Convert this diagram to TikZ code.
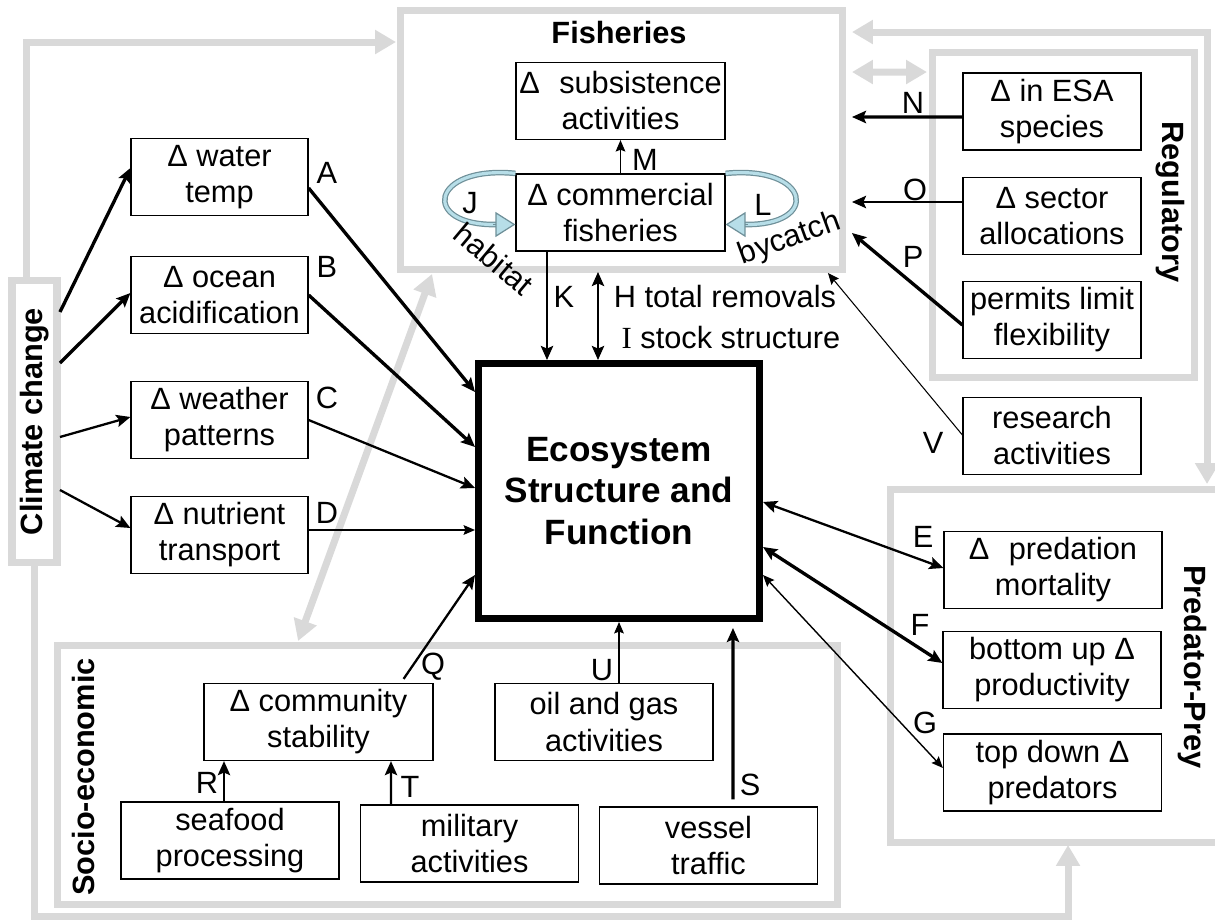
\documentclass[tikz,border=0pt]{standalone}
\usepackage{fontspec}
\setmainfont{Liberation Sans}
\newfontfamily\serifI{Liberation Serif}
\usepackage{graphicx}
\usetikzlibrary{arrows.meta,calc,positioning}
\definecolor{regiongray}{HTML}{D9D9D9}
\definecolor{loopblue}{HTML}{B7DEE8}
\definecolor{loopedge}{HTML}{6F9099}
\tikzset{
    >={Stealth[length=8pt,width=7pt,inset=1.5pt]},
    box/.style={
        rectangle,
        draw,
        line width=0.7pt,
        fill=white,
        align=center,
        inner sep=1pt,
        minimum width=4.36cm,
        minimum height=1.54cm
    },
    region/.style={rectangle, draw=regiongray, line width=4pt, inner sep=0pt, outer sep=0pt},
    grayarrow/.style={draw=regiongray, line width=4pt, >={Triangle[length=0.42cm,width=0.46cm]}, ->},
    thickarrow/.style={draw, line width=1.9pt, ->},
    midarrow/.style={draw, line width=1.3pt, ->},
    thinarrow/.style={draw, line width=0.8pt, >={Stealth[length=6.5pt,width=5.5pt,inset=1pt]}, ->},
    font={\fontsize{17.5pt}{20.5pt}\selectfont},
}

\begin{document}
\begin{tikzpicture}[x=0.02cm, y=-0.02cm]
\tikzstyle{heading} = [inner sep=0pt, font={\fontsize{17.5pt}{20.5pt}\selectfont\bfseries}]
\tikzstyle{eco} = [rectangle, draw, line width=4pt, fill=white, align=center, minimum width=5.62cm, minimum height=5.1cm, font={\fontsize{20pt}{23.5pt}\selectfont\bfseries}]
\tikzstyle{leftbox} = [box, minimum width=3.54cm]
\tikzstyle{loopband} = [draw=loopedge, double=loopblue, line width=0.7pt, double distance=1.8pt]
\tikzstyle{loophead} = [draw=loopedge, line width=0.7pt, -{Triangle[length=0.4cm,width=0.5cm,fill=loopblue]}]

\useasboundingbox (0,0) rectangle (1215,922);

% Regions
\node[region, minimum width=0.9cm, minimum height=5.66cm] (climate) at (34.5,421.5) {\rotatebox{90}{\bfseries Climate change}};
\node[region, minimum width=8.86cm, minimum height=5.2cm] (fisheries) at (621.5,140) {};
\node[region, minimum width=5.26cm, minimum height=6.52cm] (regulatory) at (1063.5,215) {};
\node[region, minimum width=6.8cm, minimum height=7.08cm] (predator) at (1060,666) {};
\node[region, minimum width=15.62cm, minimum height=5.2cm] (socio) at (447.5,775) {};

% Region headings
\node[heading] (fishtitle) at (619,33) {Fisheries};
\node[heading, rotate=-90] (regtitle) at (1170,202) {Regulatory};
\node[heading, rotate=-90] (predtitle) at (1192,667) {Predator-Prey};
\node[heading, rotate=90] (sociotitle) at (84,777) {Socio-economic};

% Links between regions (in gray)
\draw[grayarrow, shorten >=0.08cm] ($(climate.north)+(-8,0)$) |- ($(fisheries.north west)+(0,32)$);
\draw[grayarrow, shorten >=0.04cm] (climate.south) -- ++(0,354) -| ($(predator.south west)+(178,0)$);
\draw[grayarrow, <->, shorten >=0.1cm] ($(fisheries.north east)+(9,22)$) -| ($(predator.north west)+(317,0)$);
\draw[grayarrow, <->] ($(fisheries.north east)+(9,62)$) -- ($(regulatory.north west)+(-5,20)$);
\draw[grayarrow, <->] ($(socio.north west)+(241,-4)$) -- ($(fisheries.south west)+(32,4)$);

% Climate drivers
\node[leftbox] (water) at (219.5,177) {Δ water\\temp};
\node[leftbox] (ocean) at (219.5,295) {Δ ocean\\acidification};
\node[leftbox] (weather) at (219.5,420) {Δ weather\\patterns};
\node[leftbox] (nutrient) at (219.5,535) {Δ nutrient\\transport};

% Fisheries
\node[box, minimum width=4.18cm] (subs) at (620.5,101) {Δ\hspace{0.63em}subsistence\\activities};
\node[box, minimum width=4.18cm] (comm) at (620.5,212.5) {Δ commercial\\fisheries};

% Regulatory
\node[box, minimum width=3.56cm] (esa) at (1052,111.5) {Δ in ESA\\species};
\node[box, minimum width=3.56cm] (sector) at (1052,216) {Δ sector\\allocations};
\node[box, minimum width=3.56cm] (permits) at (1052,320) {permits limit\\flexibility};
\node[box, minimum width=3.56cm] (research) at (1052,436) {research\\activities};

% Predator-prey
\node[box] (predation) at (1053,570) {Δ\hspace{0.63em}predation\\mortality};
\node[box] (bottomup) at (1052,670) {bottom up Δ\\productivity};
\node[box] (topdown) at (1052.5,772.5) {top down Δ\\predators};

% Socio-economic
\node[box, minimum width=4.58cm] (community) at (318.5,722) {Δ community\\stability};
\node[box] (seafood) at (230,840.5) {seafood\\processing};
\node[box] (military) at (469.5,843.5) {military\\activities};
\node[box] (oilgas) at (604,722) {oil and gas\\activities};
\node[box] (vessel) at (708.5,845.5) {vessel\\traffic};

% Ecosystem
\node[eco] (eco) at (619,491) {Ecosystem\\Structure and\\Function};

% Climate change to drivers
\draw[thickarrow] ($(climate.east)+(3,-109.5)$) -- ($(water.west)+(0,-9)$);
\draw[thickarrow] ($(climate.east)+(3,-58.5)$) -- ($(ocean.west)+(0,-2)$);
\draw[midarrow] ($(climate.east)+(3,15.5)$) -- ($(weather.west)+(0,-3)$);
\draw[midarrow] ($(climate.east)+(3,68.5)$) -- ($(nutrient.west)+(0,-7)$);

% Into the ecosystem
\draw[thickarrow] ($(water.east)+(0,11)$) -- ($(eco.west)+(0,-99)$);
\draw[thickarrow] (ocean.east) -- ($(eco.west)+(0,-44)$);
\draw[midarrow] (weather.east) -- ($(eco.west)+(0,-3)$);
\draw[thinarrow] ($(nutrient.east)+(0,-5)$) -- ($(eco.west)+(0,39)$);
\draw[midarrow] ($(community.north east)+(-30,-4)$) -- ($(eco.west)+(0,84)$);
\draw[thinarrow] ($(oilgas.north)+(15,0)$) -- (eco.south);
\draw[thickarrow] ($(vessel.north)+(24.5,-7)$) -- ($(eco.south east)+(-30,6)$);

% Predator-prey links
\draw[midarrow, <->] ($(eco.east)+(0,11)$) -- ($(predation.west)+(0,-2)$);
\draw[thickarrow, <->] ($(eco.east)+(0,56)$) -- ($(bottomup.west)+(0,-7)$);
\draw[thinarrow, <->] ($(eco.east)+(0,84)$) -- ($(topdown.west)+(0,-4.5)$);

% Fisheries links
\draw[thinarrow] (comm.north) -- (subs.south);
\draw[midarrow] ($(comm.south)+(-73.5,0)$) -- ($(eco.north)+(-72,0)$);
\draw[midarrow, <->] ($(fisheries.south)+(-23.5,2)$) -- ($(eco.north)+(-21,0)$);

% Loops on commercial fisheries
\coordinate (jtip) at ($(comm.west)+(0,12)$);
\coordinate (ltip) at ($(comm.east)+(0,12)$);
\draw[loopband] (comm.north west) .. controls (430,165) and (420,226) .. ($(jtip)+(-19,0)$);
\draw[loophead] ($(jtip)+(-22,0)$) -- (jtip);
\draw[loopband] (comm.north east) .. controls (811,165) and (821,226) .. ($(ltip)+(19,0)$);
\draw[loophead] ($(ltip)+(22,0)$) -- (ltip);

% Regulatory links
\draw[thickarrow] ($(esa.west)+(0,5.5)$) -- ($(fisheries.east)+(9,-23)$);
\draw[midarrow] ($(sector.west)+(0,-14)$) -- ($(fisheries.east)+(9,62)$);
\draw[thickarrow] ($(permits.west)+(0,5)$) -- ($(fisheries.east)+(9,93)$);
\draw[thinarrow, line width=0.6pt] ($(research.west)+(0,-1)$) -- ($(fisheries.south east)+(-15,3)$);

% Community links
\draw[midarrow] ($(seafood.north)+(-6,0)$) -- ($(community.south)+(-94.5,0)$);
\draw[midarrow] ($(military.north)+(-78.5,0)$) -- ($(community.south)+(72.5,0)$);

% Letters
\node (labA) at (327,173) {A};
\node (labB) at (327,267) {B};
\node (labC) at (327,398) {C};
\node (labD) at (327,513) {D};
\node (labE) at (923,537) {E};
\node (labF) at (920,625) {F};
\node (labG) at (925,723) {G};
\node (labJ) at (470,203) {J};
\node (labK) at (564,297) {K};
\node (labL) at (763,205) {L};
\node (labM) at (645,160) {M};
\node (labN) at (913,103) {N};
\node (labO) at (915,190) {O};
\node (labP) at (913,257) {P};
\node (labQ) at (433,667) {Q};
\node (labR) at (207,783) {R};
\node (labS) at (750,785) {S};
\node (labT) at (410,787) {T};
\node (labU) at (602,670) {U};
\node (labV) at (933,443) {V};
\node (removals) at (725,297) {H total removals};
\node (stock) at (731,338) {{\serifI I} stock structure};
\node[rotate=-40, inner sep=0pt] (habitat) at (494,259) {habitat};
\node[rotate=20, inner sep=0pt] (bycatch) at (790,239) {bycatch};
\end{tikzpicture}
\end{document}
